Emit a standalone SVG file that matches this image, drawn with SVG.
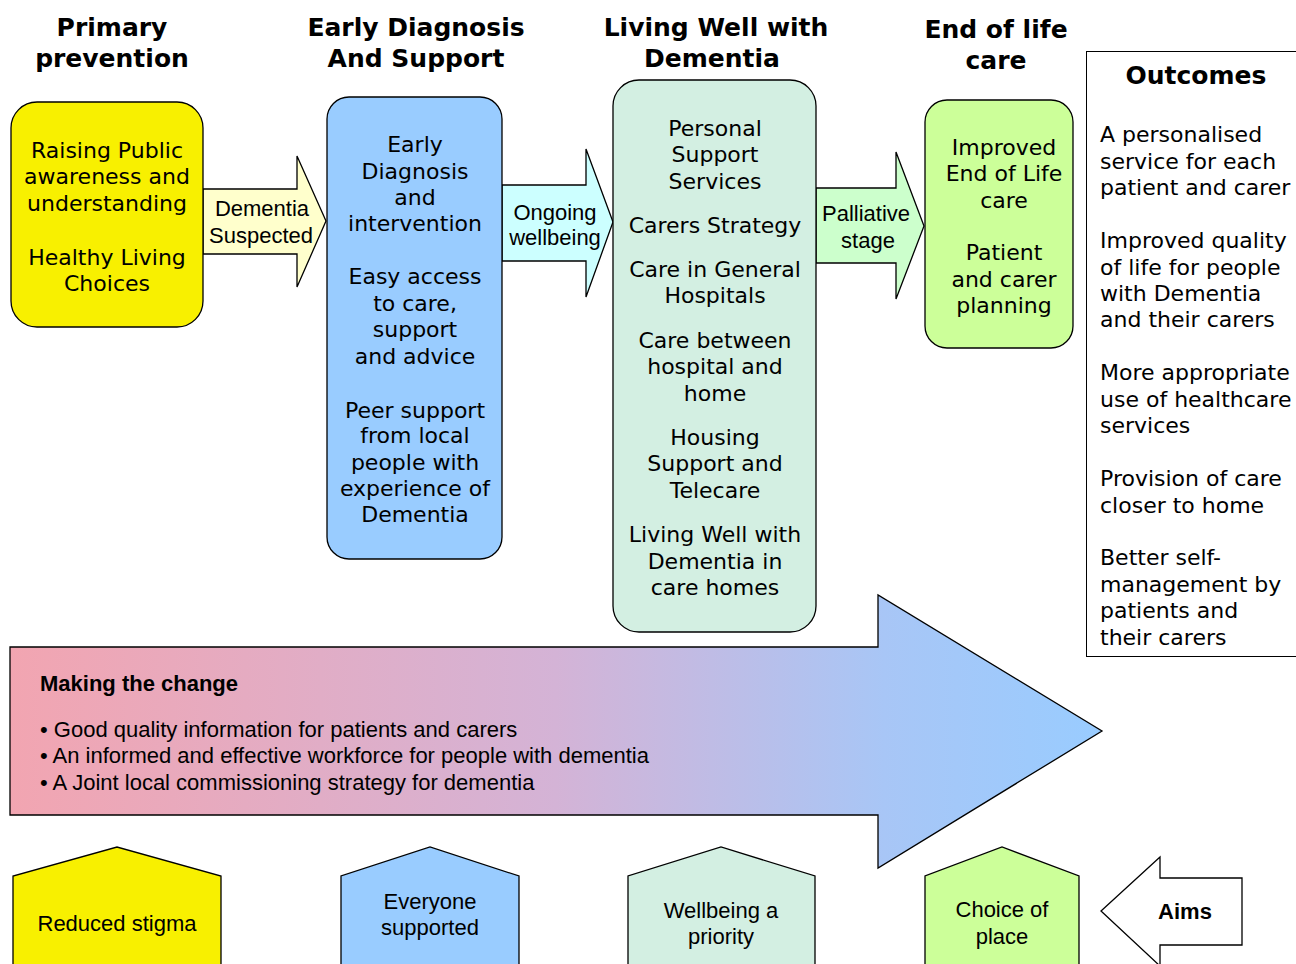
<svg xmlns="http://www.w3.org/2000/svg" width="1296" height="964" viewBox="0 0 1296 964">
<defs>
<linearGradient id="chg" gradientUnits="userSpaceOnUse" x1="10" y1="0" x2="1102" y2="0">
<stop offset="0" stop-color="#F2A5B1"/>
<stop offset="0.5" stop-color="#D4B3D6"/>
<stop offset="0.8" stop-color="#A8C6F6"/>
<stop offset="1" stop-color="#99CCFF"/>
</linearGradient>
<style>
.h{font-family:"DejaVu Sans",Verdana,sans-serif;font-weight:bold;font-size:25px;fill:#000;text-anchor:middle}
.t{font-family:"DejaVu Sans",Verdana,sans-serif;font-size:22px;fill:#000;text-anchor:middle}
.o{font-family:"DejaVu Sans",Verdana,sans-serif;font-size:22px;fill:#000}
.a{font-family:"Liberation Sans",Arial,sans-serif;font-size:22px;fill:#000;text-anchor:middle}
.ab{font-family:"Liberation Sans",Arial,sans-serif;font-size:22px;font-weight:bold;fill:#000;text-anchor:middle}
.m{font-family:"Liberation Sans",Arial,sans-serif;font-size:22px;fill:#000}
.s{stroke:#000;stroke-width:1.3}
</style>
</defs>
<rect width="1296" height="964" fill="#fff"/>

<g id="headings">
<text class="h" x="112" y="36">Primary</text>
<text class="h" x="112" y="67">prevention</text>
<text class="h" x="416" y="36">Early Diagnosis</text>
<text class="h" x="416" y="67">And Support</text>
<text class="h" x="716" y="36">Living Well with</text>
<text class="h" x="712" y="67">Dementia</text>
<text class="h" x="996" y="38">End of life</text>
<text class="h" x="996" y="69">care</text>
</g>

<g id="connectors">
<g id="arrow-dementia-suspected">
<polygon class="s" fill="#FFFFCC" points="203,189 297,189 297,156 326,221 297,287 297,254 203,254"/>
<text class="a" x="262" y="216">Dementia</text>
<text class="a" x="261" y="243">Suspected</text>
</g>
<g id="arrow-ongoing">
<polygon class="s" fill="#CCFFFF" points="502,185 586,185 586,149 613,222 586,297 586,261 502,261"/>
<text class="a" x="555" y="220">Ongoing</text>
<text class="a" x="555" y="245">wellbeing</text>
</g>
<g id="arrow-palliative">
<polygon class="s" fill="#CCFFCC" points="816,188 896,188 896,152 924,226 896,299 896,263 816,263"/>
<text class="a" x="866" y="221">Palliative</text>
<text class="a" x="868" y="248">stage</text>
</g>
</g>

<g id="node-primary">
<rect class="s" x="11" y="102" width="192" height="225" rx="26" fill="#F8F000"/>
<text class="t" x="107" y="158">Raising Public</text>
<text class="t" x="107" y="184">awareness and</text>
<text class="t" x="107" y="211">understanding</text>
<text class="t" x="107" y="265">Healthy Living</text>
<text class="t" x="107" y="291">Choices</text>
</g>

<g id="node-diagnosis">
<rect class="s" x="327" y="97" width="175" height="462" rx="22" fill="#99CCFF"/>
<text class="t" x="415" y="152">Early</text>
<text class="t" x="415" y="179">Diagnosis</text>
<text class="t" x="415" y="205">and</text>
<text class="t" x="415" y="231">intervention</text>
<text class="t" x="415" y="284">Easy access</text>
<text class="t" x="415" y="311">to care,</text>
<text class="t" x="415" y="337">support</text>
<text class="t" x="415" y="364">and advice</text>
<text class="t" x="415" y="418">Peer support</text>
<text class="t" x="415" y="443">from local</text>
<text class="t" x="415" y="470">people with</text>
<text class="t" x="415" y="496">experience of</text>
<text class="t" x="415" y="522">Dementia</text>
</g>

<g id="node-living-well">
<rect class="s" x="613" y="80" width="203" height="552" rx="26" fill="#D3EFE2"/>
<text class="t" x="715" y="136">Personal</text>
<text class="t" x="715" y="162">Support</text>
<text class="t" x="715" y="189">Services</text>
<text class="t" x="715" y="233">Carers Strategy</text>
<text class="t" x="715" y="277">Care in General</text>
<text class="t" x="715" y="303">Hospitals</text>
<text class="t" x="715" y="348">Care between</text>
<text class="t" x="715" y="374">hospital and</text>
<text class="t" x="715" y="401">home</text>
<text class="t" x="715" y="445">Housing</text>
<text class="t" x="715" y="471">Support and</text>
<text class="t" x="715" y="498">Telecare</text>
<text class="t" x="715" y="542">Living Well with</text>
<text class="t" x="715" y="569">Dementia in</text>
<text class="t" x="715" y="595">care homes</text>
</g>

<g id="node-end-of-life">
<rect class="s" x="925" y="100" width="148" height="248" rx="22" fill="#CCFF99"/>
<text class="t" x="1004" y="155">Improved</text>
<text class="t" x="1004" y="181">End of Life</text>
<text class="t" x="1004" y="208">care</text>
<text class="t" x="1004" y="260">Patient</text>
<text class="t" x="1004" y="287">and carer</text>
<text class="t" x="1004" y="313">planning</text>
</g>

<g id="node-outcomes">
<rect x="1086.5" y="51.5" width="220" height="605" fill="#fff" stroke="#000" stroke-width="1"/>
<text class="h" x="1196" y="84">Outcomes</text>
<text class="o" x="1100" y="142">A personalised</text>
<text class="o" x="1100" y="169">service for each</text>
<text class="o" x="1100" y="195">patient and carer</text>
<text class="o" x="1100" y="248">Improved quality</text>
<text class="o" x="1100" y="275">of life for people</text>
<text class="o" x="1100" y="301">with Dementia</text>
<text class="o" x="1100" y="327">and their carers</text>
<text class="o" x="1100" y="380">More appropriate</text>
<text class="o" x="1100" y="407">use of healthcare</text>
<text class="o" x="1100" y="433">services</text>
<text class="o" x="1100" y="486">Provision of care</text>
<text class="o" x="1100" y="513">closer to home</text>
<text class="o" x="1100" y="565">Better self-</text>
<text class="o" x="1100" y="592">management by</text>
<text class="o" x="1100" y="618">patients and</text>
<text class="o" x="1100" y="645">their carers</text>
</g>

<g id="node-making-the-change">
<polygon class="s" fill="url(#chg)" points="10,647 878,647 878,595 1102,731 878,868 878,815 10,815"/>
<text class="m" x="40" y="691" font-weight="bold" font-size="21">Making the change</text>
<text class="m" x="40" y="737">• Good quality information for patients and carers</text>
<text class="m" x="40" y="763">• An informed and effective workforce for people with dementia</text>
<text class="m" x="40" y="790">• A Joint local commissioning strategy for dementia</text>
</g>

<g id="node-reduced-stigma">
<polygon class="s" fill="#F8F000" points="13,976 13,876 117,847 221,876 221,976"/>
<text class="a" x="117" y="931">Reduced stigma</text>
</g>
<g id="node-everyone-supported">
<polygon class="s" fill="#99CCFF" points="341,976 341,876 430,847 519,876 519,976"/>
<text class="a" x="430" y="909">Everyone</text>
<text class="a" x="430" y="935">supported</text>
</g>
<g id="node-wellbeing">
<polygon class="s" fill="#D3EFE2" points="628,976 628,876 721,847 815,876 815,976"/>
<text class="a" x="721" y="918">Wellbeing a</text>
<text class="a" x="721" y="944">priority</text>
</g>
<g id="node-choice">
<polygon class="s" fill="#CCFF99" points="925,976 925,876 1002,847 1079,876 1079,976"/>
<text class="a" x="1002" y="917">Choice of</text>
<text class="a" x="1002" y="944">place</text>
</g>
<g id="node-aims">
<polygon class="s" fill="#fff" points="1242,878 1160,878 1160,857 1101,911 1160,966 1160,945 1242,945"/>
<text class="ab" x="1185" y="919">Aims</text>
</g>
</svg>
